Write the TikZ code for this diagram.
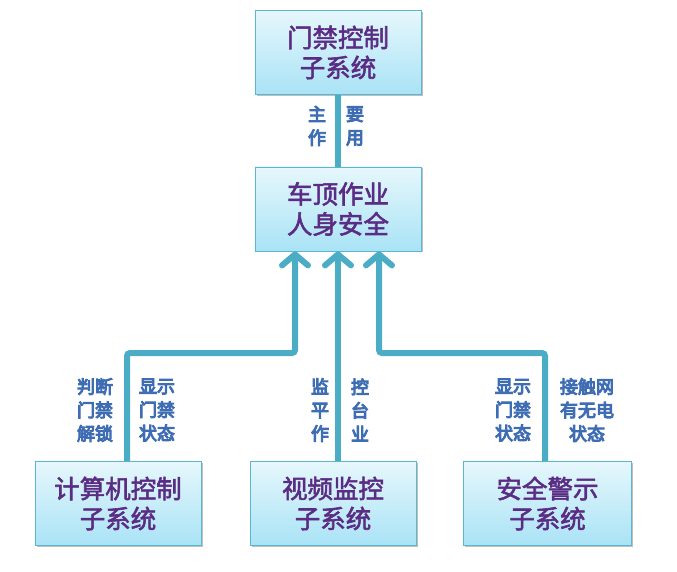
\documentclass[tikz,border=0pt]{standalone}
\usepackage{fontspec}
\newfontfamily\cjk{Noto Sans CJK SC}[FakeBold=2.2]
\newfontfamily\cjklbl{Noto Sans CJK SC}[FakeBold=5.5]
\usetikzlibrary{arrows.meta,shadows}
\definecolor{teal}{HTML}{4BACC6}
\definecolor{boxedge}{HTML}{5DB6CE}
\definecolor{lblblue}{HTML}{3F6DB3}
\definecolor{txtpurple}{HTML}{5B2C84}
\definecolor{boxtop}{HTML}{E6F7FC}
\definecolor{boxbot}{HTML}{A9E3F6}
\tikzset{
  sysbox/.style={draw=boxedge, line width=0.8pt, top color=boxtop, bottom color=boxbot,
    minimum height=84pt, inner sep=0pt, align=center, text=txtpurple,
    font=\cjk\fontsize{25.5}{30}\selectfont,
    drop shadow={shadow xshift=1.5pt, shadow yshift=-1.5pt, opacity=0.25, fill=black}},
  conn/.style={draw=teal, line width=6pt, rounded corners=3pt},
  arr/.style={conn, -{Straight Barb[length=11pt,width=26pt,line cap=round,line join=round]}},
  lbl/.style={text=lblblue, align=center, inner sep=0pt, font=\cjklbl\fontsize{18}{23.5}\selectfont},
}
\begin{document}
\begin{tikzpicture}[x=1pt,y=1pt]
\useasboundingbox (0,0) rectangle (677,571);
% boxes
\node[sysbox, minimum width=166pt] (top) at (338,518.5) {门禁控制\\子系统};
\node[sysbox, minimum width=166pt] (mid) at (338,362) {车顶作业\\人身安全};
\node[sysbox, minimum width=166pt] (bl) at (118,67.5) {计算机控制\\子系统};
\node[sysbox, minimum width=166pt] (bm) at (333,67.5) {视频监控\\子系统};
\node[sysbox, minimum width=168pt] (br) at (547.5,67.5) {安全警示\\子系统};
% connectors
\draw[conn] (top.south) -- (mid.north);
\coordinate (ml) at ([xshift=-43pt]mid.south);
\coordinate (mr) at ([xshift=41pt]mid.south);
\coordinate (bls) at ([xshift=9pt]bl.north);
\coordinate (brs) at ([xshift=-2.5pt]br.north);
\draw[arr] (bls) |- (ml |- 0,218) -- (ml);
\draw[arr] (bm.north -| mid.south) -- (mid.south);
\draw[arr] (brs) |- (mr |- 0,218) -- (mr);
% labels
\node[lbl] (l1) at (317,445) {主\\作};
\node[lbl] (l2) at (355,445) {要\\用};
\node[lbl] (l3) at (95,161) {判断\\门禁\\解锁};
\node[lbl] (l4) at (157,161) {显示\\门禁\\状态};
\node[lbl] (l5) at (320,161) {监\\平\\作};
\node[lbl] (l6) at (360,161) {控\\台\\业};
\node[lbl] (l7) at (513,161) {显示\\门禁\\状态};
\node[lbl] (l8) at (587,161) {接触网\\有无电\\状态};
\end{tikzpicture}
\end{document}
